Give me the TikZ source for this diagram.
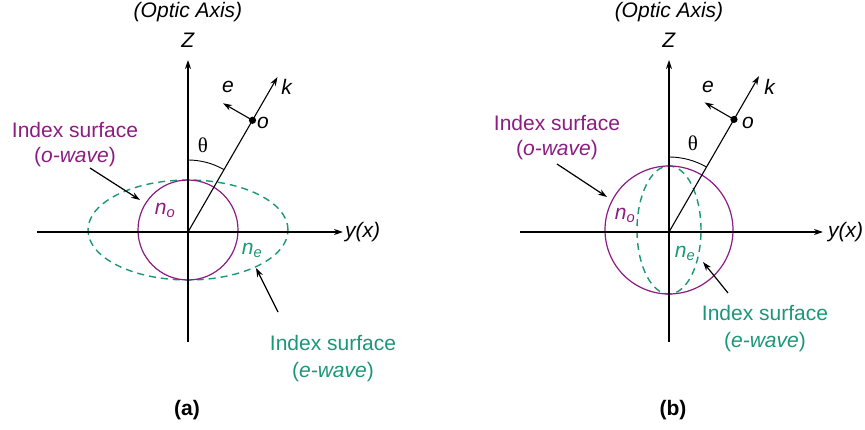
\documentclass[tikz,border=0pt]{standalone}
\usepackage{fontspec}
\setmainfont{Liberation Sans}
\newfontfamily\thetafont{Liberation Serif}
\usetikzlibrary{arrows.meta,calc}
\definecolor{omag}{RGB}{140,28,130}
\definecolor{eteal}{RGB}{28,150,120}
\begin{document}
\begin{tikzpicture}[x=1pt,y=1pt,
  every node/.style={font=\fontsize{21}{25}\selectfont, inner sep=0pt},
  axis/.style={line width=1.4pt, -{Stealth[length=9pt,width=6pt]}},
  kline/.style={line width=1.1pt, -{Stealth[length=9pt,width=6pt]}},
  osurf/.style={draw=omag, line width=1.2pt},
  esurf/.style={draw=eteal, line width=1.4pt, dash pattern=on 7pt off 5pt},
  pointer/.style={line width=1.2pt, -{Stealth[length=9pt,width=6pt]}},
  olabel/.style={text=omag, align=center},
  elabel/.style={text=eteal, align=center},
  thetaarc/.style={line width=0.9pt}]
\useasboundingbox (0,0) rectangle (865,429);

% ---------- panel (a) ----------
\begin{scope}[shift={(188,197)}]
  \coordinate (aO) at (0,0);
  \coordinate (aZb) at (0,-110);
  \coordinate (aZt) at (0,172);
  \coordinate (aYl) at (-151,0);
  \coordinate (aYr) at (155,0);
  \draw[esurf] (0,2) ellipse [x radius=100, y radius=50];
  \draw[osurf] (0,2) circle [radius=50];
  \draw[axis] (aZb) -- (aZt);
  \draw[axis] (aYl) -- (aYr);
  \coordinate (aK) at (60:179);
  \coordinate (aD) at (60:129);
  \coordinate (aE) at ($(aD)+(150:34)$);
  \draw[kline] (aO) -- (aK);
  \draw[kline] (aD) -- (aE);
  \fill (aD) circle [radius=3.6pt];
  \draw[thetaarc] (90:72) arc [start angle=90, end angle=60, radius=72];
  \node (aZ) at (0,192) {\textit{Z}};
  \node (aOA) at (0,220) {\textit{(Optic Axis)}};
  \node (ael) at (40,145) {\textit{e}};
  \node (akl) at (99,145) {\textit{k}};
  \node (aol) at (75,109) {\textit{o}};
  \node (ath) at (15,87) {\thetafont θ};
  \node[anchor=west] (ayx) at (157,0) {\textit{y(x)}};
  \node[olabel] (aIo) at (-113,102) {Index surface};
  \node[olabel] (aIow) at (-113,75) {(\textit{o-wave})};
  \coordinate (aPo1) at (-98,64);
  \coordinate (aPo2) at (-48,32);
  \draw[pointer] (aPo1) -- (aPo2);
  \node[text=omag] (ano) at (-23,22) {\textit{n\textsubscript{o}}};
  \node[text=eteal] (ane) at (64,-18) {\textit{n\textsubscript{e}}};
  \node[elabel] (aIe) at (145,-111) {Index surface};
  \node[elabel] (aIew) at (145,-140) {(\textit{e-wave})};
  \coordinate (aPe1) at (90,-80);
  \coordinate (aPe2) at (68,-36);
  \draw[pointer] (aPe1) -- (aPe2);
  \node (acap) at (-1,-178) {\textbf{(a)}};
\end{scope}

% ---------- panel (b) ----------
\begin{scope}[shift={(669,197)}]
  \coordinate (bO) at (0,0);
  \coordinate (bZb) at (0,-110);
  \coordinate (bZt) at (0,172);
  \coordinate (bYl) at (-149,0);
  \coordinate (bYr) at (154,0);
  \draw[esurf] (0,2) ellipse [x radius=32, y radius=64];
  \draw[osurf] (0,2) circle [radius=64];
  \draw[axis] (bZb) -- (bZt);
  \draw[axis] (bYl) -- (bYr);
  \coordinate (bK) at (60:180);
  \coordinate (bD) at (60:130);
  \coordinate (bE) at ($(bD)+(150:34)$);
  \draw[kline] (bO) -- (bK);
  \draw[kline] (bD) -- (bE);
  \fill (bD) circle [radius=3.6pt];
  \draw[thetaarc] (90:75) arc [start angle=90, end angle=60, radius=75];
  \node (bZ) at (0,192) {\textit{Z}};
  \node (bOA) at (0,220) {\textit{(Optic Axis)}};
  \node (bel) at (39,145) {\textit{e}};
  \node (bkl) at (101,145) {\textit{k}};
  \node (bol) at (79,109) {\textit{o}};
  \node (bth) at (24,89) {\thetafont θ};
  \node[anchor=west] (byx) at (159,0) {\textit{y(x)}};
  \node[olabel] (bIo) at (-112,109) {Index surface};
  \node[olabel] (bIow) at (-112,82) {(\textit{o-wave})};
  \coordinate (bPo1) at (-112,68);
  \coordinate (bPo2) at (-62,35);
  \draw[pointer] (bPo1) -- (bPo2);
  \node[text=omag] (bno) at (-44,17) {\textit{n\textsubscript{o}}};
  \node[text=eteal] (bne) at (16,-21) {\textit{n\textsubscript{e}}};
  \node[elabel] (bIe) at (96,-81) {Index surface};
  \node[elabel] (bIew) at (96,-110) {(\textit{e-wave})};
  \coordinate (bPe1) at (59,-61);
  \coordinate (bPe2) at (34,-30);
  \draw[pointer] (bPe1) -- (bPe2);
  \node (bcap) at (4,-178) {\textbf{(b)}};
\end{scope}
\end{tikzpicture}
\end{document}
